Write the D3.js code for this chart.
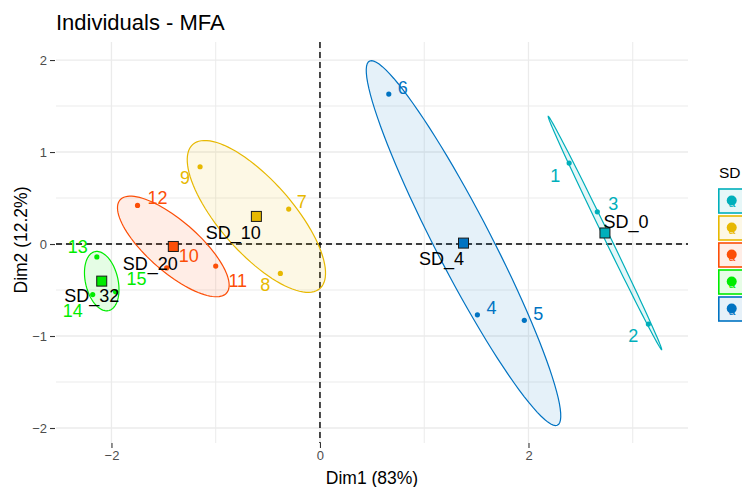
<!DOCTYPE html>
<html>
<head>
<meta charset="utf-8">
<script src="https://cdn.jsdelivr.net/npm/d3@7"></script>
<style>
  html, body { margin: 0; padding: 0; background: #fff; }
  svg { display: block; font-family: "Liberation Sans", Arial, sans-serif; }
</style>
</head>
<body>
<svg id="chart" width="742" height="487"></svg>
<script>
// Individuals of the MFA, coloured by SD group
const title = "Individuals - MFA";
const axisTitles = ["Dim1 (83%)", "Dim2 (12.2%)"];
const legendTitle = "SD";

const groups = ["SD_0", "SD_10", "SD_20", "SD_32", "SD_4"];
const groupColors = ["#00AFBB", "#E7B800", "#FC4E07", "#00EC00", "#0073C2"];

const ids     = ["1", "2", "3", "4", "5", "6", "7", "8", "9", "10", "11", "12", "13", "14", "15"];
const groupOf = ["SD_0", "SD_0", "SD_0", "SD_4", "SD_4", "SD_4", "SD_10", "SD_10", "SD_10",
                 "SD_20", "SD_20", "SD_20", "SD_32", "SD_32", "SD_32"];
const dim1 = [2.39, 3.15, 2.66, 1.51, 1.96, 0.66, -0.30, -0.38, -1.15, -1.47, -1.00, -1.75, -2.14, -2.18, -1.96];
const dim2 = [0.88, -0.87, 0.35, -0.77, -0.83, 1.63, 0.38, -0.32, 0.84, -0.26, -0.24, 0.42, -0.14, -0.55, -0.52];

const xTicks = [-2, 0, 2];
const xMinor = [-1, 1, 3];
const yTicks = [-2, -1, 0, 1, 2];
const yMinor = [-1.5, -0.5, 0.5, 1.5];

// label nudges (px) so the text sits beside each mark
const labelNudge = {
  "1": [-14, 12], "2": [-15, 11], "3": [16, -8],
  "4": [14, -7], "5": [14, -7], "6": [14, -7],
  "7": [13, -8], "8": [-15, 11], "9": [-15, 11],
  "10": [22, -12], "11": [22, 14], "12": [20, -8],
  "13": [-19, -10], "14": [-20, 16], "15": [21, -13],
  "SD_0": [21, -11], "SD_10": [-23, 16], "SD_20": [-23, 17], "SD_32": [-10, 14], "SD_4": [-22, 15]
};

const svg = d3.select("#chart");
const panel = { left: 56, right: 688, top: 42, bottom: 443 };

const x = d3.scaleLinear().domain([-2.532, 3.530]).range([panel.left, panel.right]);
const y = d3.scaleLinear().domain([-2.163, 2.196]).range([panel.bottom, panel.top]);
const color = d3.scaleOrdinal().domain(groups).range(groupColors);

const points = ids.map((id, i) => ({ id, group: groupOf[i], d1: dim1[i], d2: dim2[i] }));
const byGroup = d3.group(points, d => d.group);

// grid
const grid = svg.append("g");
grid.selectAll(".vmin").data(xMinor).join("line")
  .attr("x1", d => x(d)).attr("x2", d => x(d)).attr("y1", panel.top).attr("y2", panel.bottom)
  .attr("stroke", "#EBEBEB").attr("stroke-width", 1);
grid.selectAll(".hmin").data(yMinor).join("line")
  .attr("y1", d => y(d)).attr("y2", d => y(d)).attr("x1", panel.left).attr("x2", panel.right)
  .attr("stroke", "#EBEBEB").attr("stroke-width", 1);
grid.selectAll(".vmaj").data(xTicks).join("line")
  .attr("x1", d => x(d)).attr("x2", d => x(d)).attr("y1", panel.top).attr("y2", panel.bottom)
  .attr("stroke", "#EBEBEB").attr("stroke-width", 1.3);
grid.selectAll(".hmaj").data(yTicks).join("line")
  .attr("y1", d => y(d)).attr("y2", d => y(d)).attr("x1", panel.left).attr("x2", panel.right)
  .attr("stroke", "#EBEBEB").attr("stroke-width", 1.3);

// axes
const xAxis = svg.append("g").attr("transform", `translate(0,${panel.bottom})`)
  .call(d3.axisBottom(x).tickValues(xTicks).tickSize(5).tickPadding(3).tickFormat(d3.format("d")));
const yAxis = svg.append("g").attr("transform", `translate(${panel.left - 1},0)`)
  .call(d3.axisLeft(y).tickValues(yTicks).tickSize(5).tickPadding(3).tickFormat(d3.format("d")));
[xAxis, yAxis].forEach(a => {
  a.select(".domain").remove();
  a.selectAll(".tick line").attr("stroke", "#333").attr("stroke-width", 1.1);
  a.selectAll(".tick text").attr("fill", "#4D4D4D").attr("font-size", 13)
    .attr("font-family", "'Liberation Sans', Arial, sans-serif");
});
yAxis.selectAll(".tick text").attr("dy", "0.35em");

// reference lines through the origin
svg.append("line").attr("x1", x(0)).attr("x2", x(0)).attr("y1", panel.top).attr("y2", panel.bottom)
  .attr("stroke", "#000").attr("stroke-width", 1.4).attr("stroke-dasharray", "6,4");
svg.append("line").attr("x1", panel.left).attr("x2", panel.right).attr("y1", y(0)).attr("y2", y(0))
  .attr("stroke", "#000").attr("stroke-width", 1.4).attr("stroke-dasharray", "6,4");

// 95% confidence ellipse of each group mean
const chi2 = -2 * Math.log(1 - 0.95);
function confEllipse(pts) {
  const n = pts.length;
  const mx = d3.mean(pts, p => p.d1), my = d3.mean(pts, p => p.d2);
  let sxx = 0, syy = 0, sxy = 0;
  pts.forEach(p => { sxx += (p.d1 - mx) ** 2; syy += (p.d2 - my) ** 2; sxy += (p.d1 - mx) * (p.d2 - my); });
  sxx /= (n - 1) * n; syy /= (n - 1) * n; sxy /= (n - 1) * n;
  const tr = (sxx + syy) / 2, det = Math.sqrt(((sxx - syy) / 2) ** 2 + sxy * sxy);
  const l1 = tr + det, l2 = Math.max(tr - det, 0);
  const ang = Math.atan2(l1 - sxx, sxy || 1e-12);
  const a = Math.sqrt(chi2 * l1), b = Math.sqrt(chi2 * l2);
  return d3.range(0, 101).map(k => {
    const t = 2 * Math.PI * k / 100;
    const u = a * Math.cos(t), v = b * Math.sin(t);
    return [mx + u * Math.cos(ang) - v * Math.sin(ang), my + u * Math.sin(ang) + v * Math.cos(ang)];
  });
}
const line = d3.line().x(d => x(d[0])).y(d => y(d[1]));
const ellG = svg.append("g");
groups.forEach(g => {
  const pts = byGroup.get(g);
  ellG.append("path").attr("d", line(confEllipse(pts)) + "Z")
    .attr("fill", color(g)).attr("fill-opacity", 0.1)
    .attr("stroke", color(g)).attr("stroke-width", 1.2);
});

// individuals
svg.append("g").selectAll("circle").data(points).join("circle")
  .attr("cx", d => x(d.d1)).attr("cy", d => y(d.d2)).attr("r", 2.6)
  .attr("fill", d => color(d.group));

// group means
const centroids = groups.map(g => {
  const pts = byGroup.get(g);
  return { group: g, d1: d3.mean(pts, p => p.d1), d2: d3.mean(pts, p => p.d2) };
});
svg.append("g").selectAll("rect").data(centroids).join("rect")
  .attr("x", d => x(d.d1) - 5).attr("y", d => y(d.d2) - 5)
  .attr("width", 10).attr("height", 10)
  .attr("fill", d => color(d.group)).attr("stroke", "#1a1a1a").attr("stroke-width", 1);

// labels
const lab = svg.append("g").attr("font-size", 18).attr("text-anchor", "middle");
lab.selectAll(".ind").data(points).join("text")
  .attr("x", d => x(d.d1) + labelNudge[d.id][0])
  .attr("y", d => y(d.d2) + labelNudge[d.id][1])
  .attr("dy", "0.36em").attr("fill", d => color(d.group)).text(d => d.id);
lab.selectAll(".cen").data(centroids).join("text")
  .attr("x", d => x(d.d1) + labelNudge[d.group][0])
  .attr("y", d => y(d.d2) + labelNudge[d.group][1])
  .attr("dy", "0.36em").attr("fill", "#000").text(d => d.group);

// titles
svg.append("text").attr("x", 56).attr("y", 30).attr("font-size", 22).attr("fill", "#000").text(title);
svg.append("text").attr("x", (panel.left + panel.right) / 2 + 0).attr("y", 484)
  .attr("text-anchor", "middle").attr("font-size", 17.5).attr("fill", "#000").text(axisTitles[0]);
svg.append("text").attr("transform", `translate(27,240) rotate(-90)`)
  .attr("text-anchor", "middle").attr("font-size", 17.5).attr("fill", "#000").text(axisTitles[1]);

// legend
const leg = svg.append("g").attr("transform", "translate(718,0)");
leg.append("text").attr("x", 1).attr("y", 178).attr("font-size", 15.5).attr("fill", "#000").text(legendTitle);
const keys = leg.selectAll(".key").data(groups).join("g")
  .attr("transform", (d, i) => `translate(0,${189 + i * 27})`);
keys.append("rect").attr("x", 0.8).attr("y", 0).attr("width", 28).attr("height", 24)
  .attr("fill", d => d3.interpolateRgb("#fff", color(d))(0.1))
  .attr("stroke", d => color(d)).attr("stroke-width", 1.6);
keys.append("text").attr("x", 14).attr("y", 18).attr("text-anchor", "middle")
  .attr("font-size", 12).attr("fill", d => color(d)).text("a");
keys.append("circle").attr("cx", 13.7).attr("cy", 11.5).attr("r", 5).attr("fill", d => color(d));
</script>
</body>
</html>
